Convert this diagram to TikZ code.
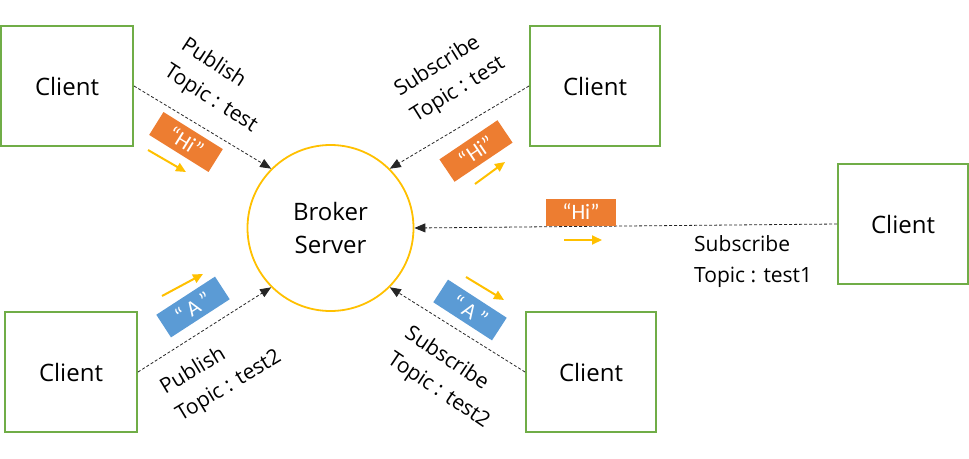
\documentclass[tikz,border=0pt]{standalone}
\usepackage{fontspec}
\setmainfont{Open Sans}
\newfontfamily\lblfont{Carlito}
\usetikzlibrary{arrows.meta}
\definecolor{cgreen}{HTML}{70AD47}
\definecolor{corange}{HTML}{ED7D31}
\definecolor{cblue}{HTML}{5B9BD5}
\definecolor{cyellow}{HTML}{FFC000}
\tikzset{
  client/.style={draw=cgreen, line width=2pt, minimum height=120pt, inner sep=0pt,
    font=\fontsize{24}{28}\selectfont},
  broker/.style={circle, draw=cyellow, line width=1.8pt, minimum size=166pt, inner sep=0pt,
    align=center, font=\fontsize{24}{33}\selectfont},
  conn/.style={draw=black!85, line width=0.8pt, dash pattern=on 3pt off 2pt,
    -{Triangle[length=11pt,width=9pt]}},
  topic/.style={align=left, inner sep=0pt, font=\fontsize{21}{31}\selectfont},
  msgbox/.style={minimum width=70pt, minimum height=27pt, inner sep=0pt, text=white,
    font=\lblfont\fontsize{22}{24}\selectfont},
  flow/.style={draw=cyellow, line width=2pt, -{Triangle[length=10pt,width=9pt]}}
}
\begin{document}
\begin{tikzpicture}[x=1pt,y=-1pt]
\useasboundingbox (0,0) rectangle (969,458);
% nodes
\node[broker] (bk) at (330.5,228) {Broker\\Server};
\node[client, minimum width=132pt] (tl) at (67,86) {Client};
\node[client, minimum width=130pt] (tr) at (595,86) {Client};
\node[client, minimum width=130pt] (rc) at (903,224) {Client};
\node[client, minimum width=132pt] (bl) at (71,372) {Client};
\node[client, minimum width=130pt] (br) at (591,372) {Client};
% connectors
\draw[conn] (tl.east) -- (bk.135);
\draw[conn] (tr.west) -- (bk.45);
\draw[conn] (rc.west) -- (bk.east);
\draw[conn] (bl.east) -- (bk.225);
\draw[conn] (br.west) -- (bk.315);
% topic labels
\node[topic, rotate=-33] (ltl) at (219,86) {Publish\\Topic : test};
\node[topic, rotate=32] (ltr) at (450,77) {Subscribe\\Topic : test};
\node[topic, anchor=west] (lrc) at (694,262) {Subscribe\\Topic : test1};
\node[topic, rotate=31] (lbl) at (221,373) {Publish\\Topic : test2};
\node[topic, rotate=-34] (lbr) at (447,378) {Subscribe\\Topic : test2};
% message boxes
\node[msgbox, fill=corange, rotate=-32] (mtl) at (186,142) {“Hi”};
\node[msgbox, fill=corange, rotate=34] (mtr) at (476,151) {“Hi”};
\node[msgbox, fill=corange] (mrc) at (581,212) {“Hi”};
\node[msgbox, fill=cblue, rotate=33] (mbl) at (193,307) {“\,A\,”};
\node[msgbox, fill=cblue, rotate=-33] (mbr) at (470,310) {“\,A\,”};
% flow arrows
\draw[flow] (148,150) -- (186,172);
\draw[flow] (475,184) -- (505,162);
\draw[flow] (564,240) -- (602,240);
\draw[flow] (162,296) -- (203,274);
\draw[flow] (466,277) -- (504,300);
\end{tikzpicture}
\end{document}
